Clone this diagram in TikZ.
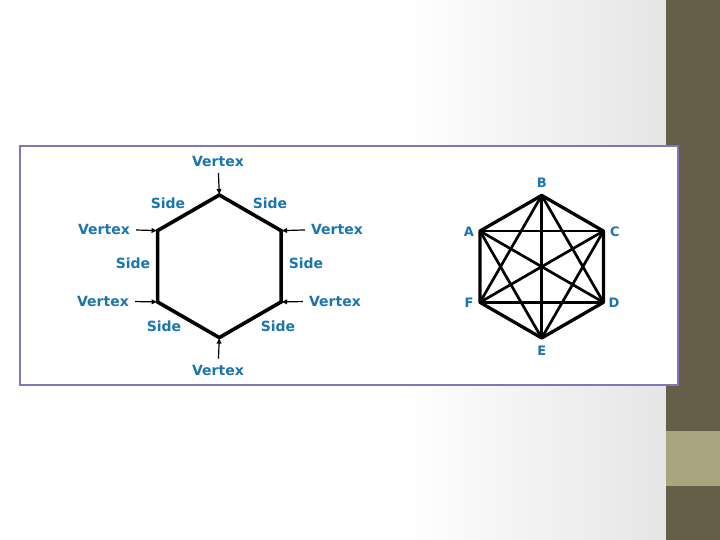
\documentclass[tikz,border=0pt]{standalone}
\usepackage{fontspec}
\setmainfont{DejaVu Sans}
\usetikzlibrary{arrows.meta}

\definecolor{slideblue}{HTML}{1B75AE}
\definecolor{framepurple}{HTML}{7F78B6}
\definecolor{barolive}{HTML}{665E48}
\definecolor{barsand}{HTML}{A9A57F}

\def\radius{71.3}

\tikzset{
  wordlbl/.style={font=\bfseries\fontsize{14}{14}\selectfont, text=slideblue, inner sep=2pt},
  letterlbl/.style={font=\bfseries\fontsize{13}{13}\selectfont, text=slideblue, inner sep=1pt},
  hexline/.style={line width=3.6pt, line join=miter},
  rim/.style={line width=3.3pt, line join=round},
  chord/.style={line width=2.7pt},
  vtxarrow/.style={-{Latex[length=6pt,width=5.5pt]}, line width=1.2pt, shorten <=4pt},
}

\begin{document}
\begin{tikzpicture}[x=1pt, y=-1pt]
  \useasboundingbox (0,0) rectangle (720,540);
  % slide background and side bar
  \fill[white] (0,0) rectangle (666,540);
  \shade[left color=white, right color=black!10] (400,0) rectangle (666,540);
  \fill[barolive] (666,0) rectangle (720,540);
  \fill[barsand] (666,431) rectangle (720,486);
  \draw[framepurple, line width=2pt, fill=white] (20,146) rectangle (678,385);

  % left hexagon: vertices v1..v6 clockwise from the top
  \foreach \i/\a in {1/-90, 2/-30, 3/30, 4/90, 5/150, 6/210}
    \coordinate (v\i) at ([shift={(\a:\radius)}] 219.3,266.3);
  \draw[hexline] (v1) -- (v2) -- (v3) -- (v4) -- (v5) -- (v6) -- cycle;

  % vertex labels with arrows
  \foreach \i/\x/\y in {1/218/161.5, 2/337/229, 3/335/301,
                        4/218/370, 5/103/301, 6/104/229} {
    \node[wordlbl] (vtx\i) at (\x,\y) {Vertex};
    \draw[vtxarrow] (vtx\i) -- (v\i);
  }

  % side labels
  \foreach \i/\x/\y in {1/270/203, 2/306/263, 3/278/326,
                        4/164/326, 5/133/263, 6/168/203}
    \node[wordlbl] (side\i) at (\x,\y) {Side};

  % right hexagon with all its diagonals
  \foreach \p/\a/\x/\y in {B/-90/541.7/183, C/-30/615/232, D/30/614/303,
                           E/90/541.7/351, F/150/469/303, A/210/469/232} {
    \coordinate (\p) at ([shift={(\a:\radius)}] 541.7,266.7);
    \node[letterlbl] (l\p) at (\x,\y) {\p};
  }
  \foreach \u/\rest in {A/{C,D,E}, B/{D,E,F}, C/{E,F}, D/{F}}
    \foreach \w in \rest
      \draw[chord] (\u) -- (\w);
  \draw[rim] (A) -- (B) -- (C) -- (D) -- (E) -- (F) -- cycle;
\end{tikzpicture}
\end{document}
